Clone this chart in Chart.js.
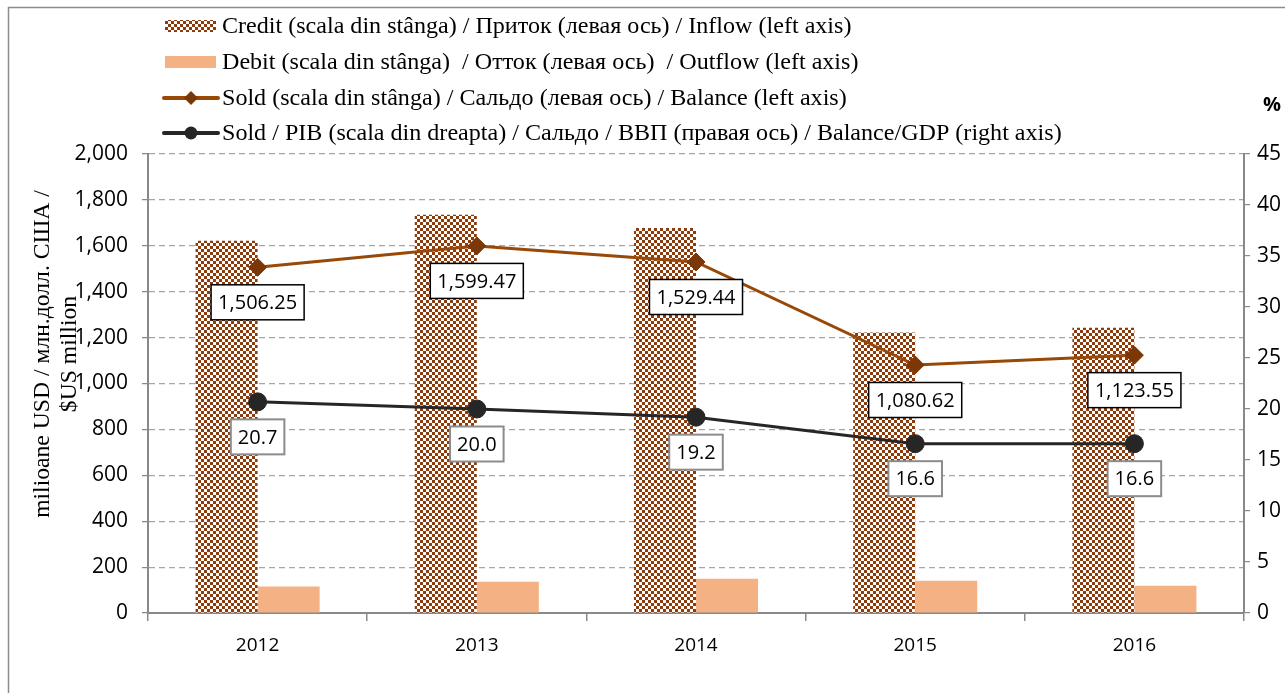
<!DOCTYPE html>
<html>
<head>
<meta charset="utf-8">
<title>Balanta - Credit / Debit / Sold</title>
<script src="https://cdn.jsdelivr.net/npm/chart.js@4.4.1/dist/chart.umd.min.js"></script>
<style>
    html, body { margin: 0; padding: 0; background: #fff; }
    canvas { display: block; }
</style>
</head>
<body>
<canvas id="balanceChart" width="1285" height="693"></canvas>
<script>
// Date
const years = ['2012', '2013', '2014', '2015', '2016'];
const creditValues = [1622, 1735, 1678, 1222, 1243];
const debitValues = [116, 136, 149, 141, 119];
const balanceValues = [1506.25, 1599.47, 1529.44, 1080.62, 1123.55];
const balanceGdpValues = [20.7, 20.0, 19.2, 16.6, 16.6];

const legendLabels = [
    'Credit (scala din stânga) / Приток (левая ось) / Inflow (left axis)',
    'Debit (scala din stânga)  / Отток (левая ось)  / Outflow (left axis)',
    'Sold (scala din stânga) / Сальдо (левая ось) / Balance (left axis)',
    'Sold / PIB (scala din dreapta) / Сальдо / ВВП (правая ось) / Balance/GDP (right axis)',
];
const leftAxisTitle = ['milioane USD / млн.долл. США /', '$US million'];
const rightAxisTitle = '%';

// Culori
const BROWN = '#8c3b0c';
const DEBIT = '#f4b183';
const BALANCE_LINE = '#984807';
const BALANCE_MARK = '#7b3806';
const GDP_LINE = '#262626';
const AXIS = '#898989';
const GRID = '#a6a6a6';
const SERIF = '"Liberation Serif", "DejaVu Serif", serif';
const SANS = '"Open Sans", "Noto Sans", sans-serif';

// Model in carouri pentru credit
function makeCheckerPattern() {
    const c = document.createElement('canvas');
    c.width = 6;
    c.height = 6;
    const p = c.getContext('2d');
    p.fillStyle = '#fff';
    p.fillRect(0, 0, 6, 6);
    p.fillStyle = BROWN;
    p.fillRect(0, 0, 3, 3);
    p.fillRect(3, 3, 3, 3);
    return p.createPattern(c, 'repeat');
}
const checker = makeCheckerPattern();

// Marimea fontului ca textul sa aiba latimea dorita
function fitSize(ctx, text, family, target) {
    ctx.save();
    ctx.font = `100px ${family}`;
    const w = ctx.measureText(text).width;
    ctx.restore();
    return 100 * target / w;
}

// Cadrul exterior
const framePlugin = {
    id: 'frame',
    beforeDraw(chart) {
        const ctx = chart.ctx;
        ctx.save();
        ctx.strokeStyle = '#8c8c8c';
        ctx.lineWidth = 1.5;
        ctx.beginPath();
        ctx.moveTo(8.5, 700);
        ctx.lineTo(8.5, 7.5);
        ctx.lineTo(1300, 7.5);
        ctx.stroke();
        ctx.restore();
    }
};

// Legenda desenata manual
const legendPlugin = {
    id: 'customLegend',
    afterDraw(chart) {
        const ctx = chart.ctx;
        const rows = [26, 62, 98, 133];
        const size = fitSize(ctx, legendLabels[3], SERIF, 840);
        ctx.save();

        // credit
        ctx.fillStyle = checker;
        ctx.fillRect(165, rows[0] - 6, 51, 12);
        // debit
        ctx.fillStyle = DEBIT;
        ctx.fillRect(165, rows[1] - 6, 51, 12);

        // sold
        ctx.lineCap = 'round';
        ctx.lineWidth = 4;
        ctx.strokeStyle = BALANCE_LINE;
        ctx.beginPath();
        ctx.moveTo(164, rows[2]);
        ctx.lineTo(218, rows[2]);
        ctx.stroke();
        ctx.fillStyle = BALANCE_MARK;
        ctx.beginPath();
        ctx.moveTo(191, rows[2] - 7);
        ctx.lineTo(198, rows[2]);
        ctx.lineTo(191, rows[2] + 7);
        ctx.lineTo(184, rows[2]);
        ctx.closePath();
        ctx.fill();

        // sold / PIB
        ctx.strokeStyle = GDP_LINE;
        ctx.beginPath();
        ctx.moveTo(164, rows[3]);
        ctx.lineTo(218, rows[3]);
        ctx.stroke();
        ctx.fillStyle = GDP_LINE;
        ctx.beginPath();
        ctx.arc(191, rows[3], 6.5, 0, Math.PI * 2);
        ctx.fill();

        ctx.fillStyle = '#000';
        ctx.font = `${size}px ${SERIF}`;
        ctx.textBaseline = 'middle';
        ctx.textAlign = 'left';
        legendLabels.forEach((txt, i) => ctx.fillText(txt, 222, rows[i] + 1));
        ctx.restore();
    }
};

// Titlurile axelor
const axisTitlePlugin = {
    id: 'axisTitles',
    afterDraw(chart) {
        const ctx = chart.ctx;
        const size = fitSize(ctx, leftAxisTitle[0], SERIF, 328);
        ctx.save();
        ctx.fillStyle = '#000';
        ctx.font = `${size}px ${SERIF}`;
        ctx.textAlign = 'center';
        ctx.textBaseline = 'middle';
        [43, 70].forEach((x, i) => {
            ctx.save();
            ctx.translate(x, 354);
            ctx.rotate(-Math.PI / 2);
            ctx.fillText(leftAxisTitle[i], 0, 0);
            ctx.restore();
        });
        ctx.font = `bold 20px ${SANS}`;
        ctx.fillText(rightAxisTitle, 1272, 105);
        ctx.restore();
    }
};

// Etichete cu valori sub puncte
function drawValueLabels(chart, datasetIndex, format, borderColor, borderWidth) {
    const ctx = chart.ctx;
    const meta = chart.getDatasetMeta(datasetIndex);
    const values = chart.data.datasets[datasetIndex].data;
    ctx.save();
    ctx.font = `20px ${SANS}`;
    ctx.textAlign = 'center';
    ctx.textBaseline = 'middle';
    meta.data.forEach((pt, i) => {
        const text = format(values[i]);
        const w = ctx.measureText(text).width + 14;
        const h = 35;
        const cx = pt.x;
        const cy = pt.y + 35;
        ctx.fillStyle = '#fff';
        ctx.fillRect(cx - w / 2, cy - h / 2, w, h);
        ctx.strokeStyle = borderColor;
        ctx.lineWidth = borderWidth;
        ctx.strokeRect(cx - w / 2, cy - h / 2, w, h);
        ctx.fillStyle = '#000';
        ctx.fillText(text, cx, cy + 1);
    });
    ctx.restore();
}

const valueLabelPlugin = {
    id: 'valueLabels',
    afterDatasetsDraw(chart) {
        drawValueLabels(chart, 2, v => v.toLocaleString('en-US', { minimumFractionDigits: 2 }), '#000', 1.5);
        drawValueLabels(chart, 3, v => v.toFixed(1), '#8c8c8c', 2);
    }
};

const ctx = document.getElementById('balanceChart');

new Chart(ctx, {
    data: {
        labels: years,
        datasets: [
            {
                type: 'bar',
                label: legendLabels[0],
                data: creditValues,
                backgroundColor: checker,
                yAxisID: 'y',
                order: 3,
                barPercentage: 1,
                categoryPercentage: 0.566,
            },
            {
                type: 'bar',
                label: legendLabels[1],
                data: debitValues,
                backgroundColor: DEBIT,
                yAxisID: 'y',
                order: 4,
                barPercentage: 1,
                categoryPercentage: 0.566,
            },
            {
                type: 'line',
                label: legendLabels[2],
                data: balanceValues,
                borderColor: BALANCE_LINE,
                borderWidth: 3,
                pointStyle: 'rectRot',
                pointRadius: 9,
                pointBackgroundColor: BALANCE_MARK,
                pointBorderColor: BALANCE_MARK,
                pointBorderWidth: 1,
                tension: 0,
                yAxisID: 'y',
                order: 2,
            },
            {
                type: 'line',
                label: legendLabels[3],
                data: balanceGdpValues,
                borderColor: GDP_LINE,
                borderWidth: 3,
                pointStyle: 'circle',
                pointRadius: 9,
                pointBackgroundColor: GDP_LINE,
                pointBorderColor: GDP_LINE,
                pointBorderWidth: 1,
                tension: 0,
                yAxisID: 'y1',
                order: 1,
            },
        ]
    },
    options: {
        responsive: false,
        animation: false,
        layout: { padding: { top: 154, left: 0, right: 0, bottom: 0 } },
        plugins: {
            legend: { display: false },
            tooltip: { enabled: false },
        },
        scales: {
            x: {
                offset: true,
                afterFit(scale) { scale.height = 80; },
                grid: {
                    offset: true,
                    drawOnChartArea: false,
                    drawTicks: true,
                    tickLength: 8,
                    color: AXIS,
                    lineWidth: 1.5,
                },
                border: { color: AXIS, width: 2 },
                ticks: {
                    color: '#000',
                    font: { family: SANS, size: 19 },
                    padding: 13,
                },
            },
            y: {
                position: 'left',
                min: 0,
                max: 2000,
                afterFit(scale) { scale.width = 148; },
                grid: {
                    color: GRID,
                    lineWidth: 1.2,
                    tickColor: AXIS,
                    tickLength: 6,
                    tickBorderDash: [1, 0],
                },
                border: { color: AXIS, width: 2, dash: [6, 4] },
                ticks: {
                    stepSize: 200,
                    color: '#000',
                    font: { family: SANS, size: 21 },
                    padding: 14,
                    callback: v => v.toLocaleString('en-US'),
                },
            },
            y1: {
                position: 'right',
                min: 0,
                max: 45,
                afterFit(scale) { scale.width = 41; },
                grid: {
                    drawOnChartArea: false,
                    tickLength: 6,
                    color: AXIS,
                    lineWidth: 1.2,
                },
                border: { color: AXIS, width: 2 },
                ticks: {
                    stepSize: 5,
                    color: '#000',
                    font: { family: SANS, size: 21 },
                    padding: 7,
                },
            },
        },
    },
    plugins: [framePlugin, valueLabelPlugin, legendPlugin, axisTitlePlugin],
});
</script>
</body>
</html>
